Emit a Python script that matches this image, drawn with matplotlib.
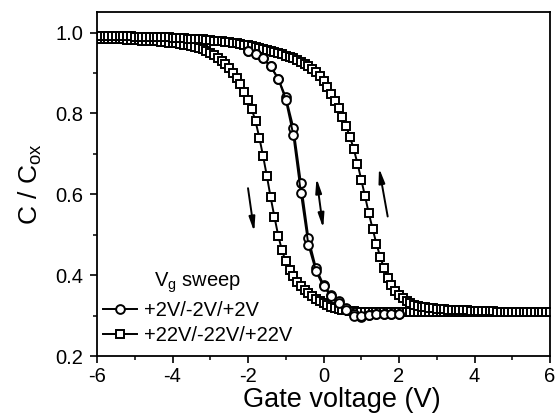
import numpy as np
import matplotlib
matplotlib.use("Agg")
import matplotlib.pyplot as plt
from matplotlib.ticker import MultipleLocator

plt.rcParams['font.family'] = ['Liberation Sans', 'DejaVu Sans']
plt.rcParams['mathtext.fontset'] = 'custom'
plt.rcParams['mathtext.rm'] = 'Liberation Sans'
plt.rcParams['mathtext.it'] = 'Liberation Sans:italic'
plt.rcParams['axes.unicode_minus'] = False

# ---- data ----
# +22V/-22V/+22V sweep, 0.1 V steps from -6 V to +6 V
sq_x_start = -6.0
sq_step = 0.1
sq_down = [
    0.985, 0.985, 0.985, 0.984, 0.984, 0.984, 0.983, 0.983, 0.982, 0.982,
    0.981, 0.981, 0.980, 0.980, 0.979, 0.979, 0.978, 0.977, 0.976, 0.975,
    0.974, 0.973, 0.971, 0.970, 0.968, 0.966, 0.964, 0.961, 0.958, 0.954,
    0.950, 0.944, 0.937, 0.930, 0.921, 0.911, 0.900, 0.887, 0.872, 0.854,
    0.834, 0.811, 0.780, 0.740, 0.694, 0.645, 0.592, 0.544, 0.498, 0.461,
    0.434, 0.413, 0.397, 0.384, 0.373, 0.363, 0.355, 0.348, 0.341, 0.335,
    0.330, 0.326, 0.322, 0.319, 0.316, 0.314, 0.313, 0.312, 0.311, 0.310,
    0.310, 0.310, 0.310, 0.310, 0.310, 0.310, 0.310, 0.310, 0.310, 0.310,
    0.310, 0.310, 0.310, 0.310, 0.310, 0.310, 0.310, 0.310, 0.310, 0.310,
    0.310, 0.310, 0.310, 0.310, 0.310, 0.310, 0.310, 0.310, 0.310, 0.310,
    0.310, 0.310, 0.310, 0.310, 0.310, 0.310, 0.310, 0.310, 0.310, 0.310,
    0.310, 0.310, 0.310, 0.310, 0.310, 0.310, 0.310, 0.310, 0.310, 0.310,
    0.310,
]
sq_up = [
    0.992, 0.992, 0.992, 0.992, 0.992, 0.991, 0.991, 0.991, 0.991, 0.991,
    0.990, 0.990, 0.990, 0.990, 0.989, 0.989, 0.989, 0.988, 0.988, 0.988,
    0.987, 0.987, 0.986, 0.986, 0.985, 0.985, 0.984, 0.984, 0.983, 0.982,
    0.981, 0.980, 0.979, 0.978, 0.977, 0.976, 0.974, 0.973, 0.971, 0.970,
    0.968, 0.966, 0.964, 0.962, 0.960, 0.957, 0.955, 0.952, 0.949, 0.946,
    0.943, 0.940, 0.936, 0.933, 0.928, 0.922, 0.917, 0.910, 0.902, 0.892,
    0.880, 0.865, 0.848, 0.831, 0.814, 0.792, 0.768, 0.742, 0.712, 0.676,
    0.636, 0.595, 0.553, 0.515, 0.478, 0.446, 0.418, 0.394, 0.376, 0.362,
    0.352, 0.343, 0.335, 0.331, 0.327, 0.324, 0.322, 0.320, 0.319, 0.318,
    0.317, 0.316, 0.316, 0.315, 0.315, 0.314, 0.314, 0.313, 0.313, 0.312,
    0.312, 0.312, 0.311, 0.311, 0.311, 0.311, 0.310, 0.310, 0.310, 0.310,
    0.310, 0.310, 0.310, 0.310, 0.310, 0.310, 0.310, 0.310, 0.310, 0.310,
    0.310,
]

# +2V/-2V/+2V sweep, 0.2 V steps from -2 V to +2 V
ci_x = [-2.0, -1.8, -1.6, -1.4, -1.2, -1.0, -0.8, -0.6, -0.4, -0.2, 0.0,
        0.2, 0.4, 0.6, 0.8, 1.0, 1.2, 1.4, 1.6, 1.8, 2.0]
ci_down = [0.955, 0.948, 0.936, 0.916, 0.886, 0.840, 0.765, 0.628, 0.491,
           0.417, 0.376, 0.351, 0.335, 0.318, 0.305, 0.296, 0.302, 0.303,
           0.303, 0.303, 0.303]
ci_up = [0.955, 0.948, 0.936, 0.916, 0.886, 0.834, 0.747, 0.604, 0.475,
         0.410, 0.372, 0.348, 0.332, 0.315, 0.300, 0.298, 0.302, 0.303,
         0.303, 0.303, 0.303]

label_small = '+2V/-2V/+2V'
label_large = '+22V/-22V/+22V'
legend_title = r'V$_\mathregular{g}$ sweep'
x_ticks = [-6, -4, -2, 0, 2, 4, 6]
y_ticks = [0.2, 0.4, 0.6, 0.8, 1.0]

# ---- figure ----
fig = plt.figure(figsize=(5.55, 4.18), dpi=100)
ax = fig.add_axes([0.1748, 0.1483, 0.8162, 0.8223])

sq_x = sq_x_start + sq_step * np.arange(len(sq_down))
sq_x2 = sq_x_start + sq_step * np.arange(len(sq_up))

common = dict(color='black', lw=1.4, mfc='white', mec='black', mew=1.4)
ax.plot(sq_x, sq_down, marker='s', ms=5.6, **common)
ax.plot(sq_x2, sq_up, marker='s', ms=5.6, **common)
ax.plot(ci_x, ci_down, marker='o', ms=6.3, **common)
ax.plot(ci_x, ci_up, marker='o', ms=6.3, **common)

# legend proxies
h1, = ax.plot([], [], marker='o', ms=6.3, **common)
h2, = ax.plot([], [], marker='s', ms=5.6, **common)
leg = ax.legend([h1, h2], [label_small, label_large], title=legend_title,
                loc='lower left', bbox_to_anchor=(0.0, 0.015), frameon=False,
                fontsize=14.5, title_fontsize=14.5, handlelength=1.7,
                handletextpad=0.35, labelspacing=0.3, borderaxespad=0.0,
                borderpad=0.3)

# arrows
ap = dict(arrowstyle='-|>,head_length=0.85,head_width=0.18', color='black',
          lw=1.4, shrinkA=0, shrinkB=0, mutation_scale=10)
ax.annotate('', xy=(-1.835, 0.507), xytext=(-2.00, 0.615), arrowprops=ap)
ax.annotate('', xy=(1.47, 0.665), xytext=(1.70, 0.545), arrowprops=ap)
ap2 = dict(ap)
ap2['arrowstyle'] = '<|-|>,head_length=0.85,head_width=0.18'
ax.annotate('', xy=(-0.008, 0.516), xytext=(-0.186, 0.640), arrowprops=ap2)

ax.set_xlim(-6, 6)
ax.set_ylim(0.2, 1.05)
ax.set_xticks(x_ticks)
ax.set_yticks(y_ticks)
ax.set_xticklabels([str(t) for t in x_ticks])
ax.set_yticklabels(['%.1f' % t for t in y_ticks])
ax.xaxis.set_minor_locator(MultipleLocator(1))
ax.yaxis.set_minor_locator(MultipleLocator(0.1))
ax.tick_params(which='major', direction='out', length=5, width=1.2,
               labelsize=14.5)
ax.tick_params(axis='x', which='major', pad=3)
ax.tick_params(axis='y', which='major', pad=5)
ax.tick_params(which='minor', direction='out', length=3, width=1.1)
for s in ax.spines.values():
    s.set_linewidth(1.3)

ax.set_xlabel('Gate voltage (V)', fontsize=19.5, labelpad=0)
ax.xaxis.set_label_coords(0.541, -0.091)
ax.set_ylabel(r'C / C$_\mathregular{ox}$', fontsize=19, labelpad=8)

fig.savefig('out.png', dpi=100)
